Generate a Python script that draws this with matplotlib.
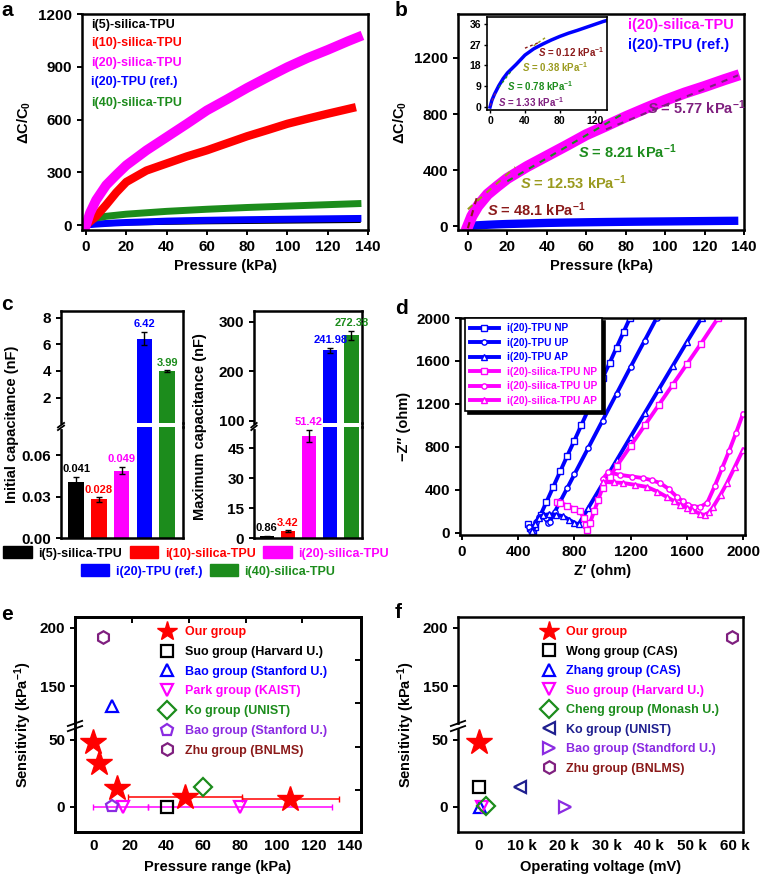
import numpy as np
import matplotlib.pyplot as plt
from matplotlib.lines import Line2D
from matplotlib.patches import Patch

plt.rcParams['font.family'] = ['Liberation Sans', 'DejaVu Sans']
plt.rcParams['font.weight'] = 'bold'
plt.rcParams['axes.labelweight'] = 'bold'
plt.rcParams['mathtext.fontset'] = 'custom'
plt.rcParams['mathtext.rm'] = 'Liberation Sans:bold'
plt.rcParams['mathtext.it'] = 'Liberation Sans:italic:bold'
plt.rcParams['mathtext.bf'] = 'Liberation Sans:bold'
plt.rcParams['axes.linewidth'] = 1.8
plt.rcParams['xtick.major.width'] = 1.4
plt.rcParams['ytick.major.width'] = 1.4
plt.rcParams['xtick.major.size'] = 3.5
plt.rcParams['ytick.major.size'] = 3.5
plt.rcParams['xtick.labelsize'] = 11
plt.rcParams['ytick.labelsize'] = 11
plt.rcParams['axes.labelsize'] = 10.5

BLACK, RED, MAG, BLUE, GREEN = '#000000', '#FF0000', '#FF00FF', '#0000FF', '#1C8C1C'
BROWN, OLIVE, PURPLE, VIOLET, NAVY = '#8B1A1A', '#9A9A1E', '#7F1F7F', '#8B2BE2', '#1F1F8F'

# ---------------- data ----------------
# a / b : dC/C0 vs pressure
pressure = [0, 2, 5, 10, 15, 20, 30, 40, 50, 60, 70, 80, 90, 100, 110, 120, 130, 135]
pressure_i10 = [0, 2, 5, 10, 15, 20, 30, 40, 50, 60, 70, 80, 90, 100, 110, 120, 132]
dc_i5 = [0, 3, 6, 9, 11, 13, 15, 17, 18.5, 20, 21, 22, 23, 24, 25, 26, 27, 27.5]
dc_i10 = [0, 20, 50, 115, 185, 245, 310, 350, 390, 425, 465, 505, 540, 576, 605, 633, 665]
dc_i20 = [0, 70, 142, 227, 285, 340, 425, 500, 575, 652, 715, 780, 840, 898, 950, 996, 1045, 1068]
dc_ref = [0, 2.8, 5.5, 9.2, 12.3, 14.8, 18.5, 22.5, 25.2, 27.2, 29, 30.6, 32, 33.2, 34.5, 35.8, 37.1, 37.6]
dc_i40 = [0, 25, 40, 50, 56, 62, 70, 78, 84, 90, 95, 100, 104, 108, 112, 116, 120, 122]

# b : linear fits on i(20)-silica-TPU
fit_s = [48.1, 12.53, 8.21, 5.77]
fit_p0 = [0, 0, 20, 70]
fit_p1 = [4.5, 24, 80, 137]
fit_v0 = [-15, 120, 320, 690]
fit_colors = [BROWN, OLIVE, GREEN, PURPLE]
# b inset : fits on i(20)-TPU (ref.)
ins_s = [0.12, 0.38, 0.78, 1.33]
ins_p = [(40, 55), (50, 65), (10, 25), (0, 6)]
ins_v = [(25.5, 27.8), (26.5, 30.5), (8.5, 16), (0.5, 6)]

# c : capacitance bars
groups = ['i(5)-silica-TPU', 'i(10)-silica-TPU', 'i(20)-silica-TPU', 'i(20)-TPU (ref.)', 'i(40)-silica-TPU']
group_colors = [BLACK, RED, MAG, BLUE, GREEN]
c_init = [0.041, 0.028, 0.049, 6.42, 3.99]
c_init_err = [0.0035, 0.0015, 0.0024, 0.5, 0.05]
c_init_txt = ['0.041', '0.028', '0.049', '6.42', '3.99']
c_max = [0.86, 3.42, 51.42, 241.98, 272.38]
c_max_err = [0.3, 0.4, 3.0, 5.0, 10.0]
c_max_txt = ['0.86', '3.42', '51.42', '241.98', '272.38']

# d : Nyquist plots
nyq_labels = ['i(20)-TPU NP', 'i(20)-TPU UP', 'i(20)-TPU AP',
              'i(20)-silica-TPU NP', 'i(20)-silica-TPU UP', 'i(20)-silica-TPU AP']
nyq_colors = [BLUE, BLUE, BLUE, MAG, MAG, MAG]
nyq_markers = ['s', 'o', '^', 's', 'o', '^']
nyq_re = [
    [468, 482, 495, 505, 520, 560, 600, 650, 700, 750, 800, 850, 900, 950, 1000, 1050, 1100, 1150, 1195],
    [475, 490, 505, 525, 550, 575, 595, 610, 625, 660, 700, 750, 800, 900, 1000, 1100, 1200, 1300, 1385],
    [500, 520, 545, 580, 620, 670, 720, 760, 800, 830, 860, 900, 1000, 1100, 1200, 1300, 1400, 1500, 1600, 1705],
    [675, 700, 750, 800, 840, 865, 880, 892, 910, 940, 970, 1000, 1050, 1100, 1200, 1300, 1400, 1500, 1600, 1700, 1822],
    [1000, 1040, 1125, 1210, 1290, 1350, 1410, 1470, 1530, 1570, 1610, 1650, 1695, 1745, 1800, 1850, 1900, 1950, 2000],
    [1006, 1080, 1146, 1230, 1317, 1390, 1458, 1510, 1552, 1600, 1638, 1695, 1730, 1760, 1787, 1840, 1886, 1940, 2000],
]
nyq_im = [
    [80, 45, 15, 5, 55, 170, 285, 430, 575, 720, 860, 1005, 1150, 1295, 1440, 1580, 1725, 1870, 2000],
    [60, 20, 10, 100, 150, 160, 135, 95, 105, 195, 295, 420, 545, 795, 1045, 1295, 1545, 1790, 2000],
    [15, 80, 140, 165, 175, 170, 155, 125, 95, 80, 145, 235, 455, 675, 895, 1115, 1335, 1555, 1775, 2000],
    [290, 280, 255, 225, 200, 140, 70, 30, 90, 200, 310, 420, 525, 620, 810, 1000, 1190, 1380, 1570, 1760, 2000],
    [500, 565, 540, 525, 510, 490, 465, 410, 335, 295, 260, 245, 242, 280, 440, 600, 760, 930, 1110],
    [474, 470, 465, 448, 428, 385, 335, 295, 260, 235, 214, 177, 167, 195, 242, 355, 465, 610, 775],
]

# e : sensitivity vs pressure range
e_labels = ['Our group', 'Suo group (Harvard U.)', 'Bao group (Stanford U.)', 'Park group (KAIST)',
            'Ko group (UNIST)', 'Bao group (Stanford U.)', 'Zhu group (BNLMS)']
e_text_colors = [RED, BLACK, BLUE, MAG, GREEN, VIOLET, BROWN]
e_marker_colors = [RED, BLACK, BLUE, MAG, GREEN, VIOLET, PURPLE]
e_markers = ['*', 's', '^', 'v', 'D', 'p', 'h']
e_x = [[0, 3, 13, 50, 107], [40], [10], [16, 80], [60], [10], [5]]
e_y = [[48.5, 33, 14, 7.5, 6], [0], [133], [0, 0], [15], [1], [192]]
e_xerr_lo = [[0, 0, 0, 31, 26], [0], [0], [16, 50], [0], [0], [0]]
e_xerr_hi = [[0, 0, 0, 31, 27], [0], [0], [14, 50], [0], [0], [0]]

# f : sensitivity vs operating voltage
f_labels = ['Our group', 'Wong group (CAS)', 'Zhang group (CAS)', 'Suo group (Harvard U.)',
            'Cheng group (Monash U.)', 'Ko group (UNIST)', 'Bao group (Standford U.)', 'Zhu group (BNLMS)']
f_text_colors = [RED, BLACK, BLUE, MAG, GREEN, NAVY, VIOLET, BROWN]
f_marker_colors = [RED, BLACK, BLUE, MAG, GREEN, NAVY, VIOLET, PURPLE]
f_markers = ['*', 's', '^', 'v', 'D', '<', '>', 'h']
f_x = [0, 0, 300, 600, 1600, 9600, 20200, 59500]
f_y = [48.5, 15, 0, 0, 1, 15, 0, 192]

# ---------------- figure ----------------
W, H = 761, 876
fig = plt.figure(figsize=(W / 100, H / 100), dpi=100)


def add_ax(x0, y0, x1, y1):
    return fig.add_axes([x0 / W, 1 - y1 / H, (x1 - x0) / W, (y1 - y0) / H])


def panel_label(x, y, s):
    fig.text(x / W, 1 - y / H, s, fontsize=15, fontweight='bold', ha='left', va='center')


def broken_scale(ymin, lo, hi, ymax, frac, gap=0.006):
    src = np.array([ymin, lo, hi, ymax], dtype=float)
    dst = np.array([0.0, frac, frac + gap, 1.0])

    def make(a, b):
        def f(v):
            v = np.asarray(v, dtype=float)
            out = np.interp(v, a, b)
            out = np.where(v < a[0], b[0] + (v - a[0]) * (b[1] - b[0]) / (a[1] - a[0]), out)
            out = np.where(v > a[-1], b[-1] + (v - a[-1]) * (b[-1] - b[-2]) / (a[-1] - a[-2]), out)
            return out
        return f
    return make(src, dst), make(dst, src)


def break_marks(ax, yfrac, dy=0.012):
    ax.plot([-0.03, 0.03], [yfrac - 0.004, yfrac - 0.004], color='white', lw=3,
            transform=ax.transAxes, clip_on=False, zorder=10)
    for off in (-0.012, 0.012):
        ax.plot([-0.025, 0.025], [yfrac + off - dy, yfrac + off + dy], color='k', lw=1.3,
                transform=ax.transAxes, clip_on=False, zorder=11)


# ---- a ----
ax = add_ax(82, 14, 368, 230)
ax.plot(pressure, dc_i5, color=BLACK, lw=4)
ax.plot(pressure, dc_ref, color=BLUE, lw=5)
ax.plot(pressure, dc_i40, color=GREEN, lw=5)
ax.plot(pressure_i10, dc_i10, color=RED, lw=6)
ax.plot(pressure, dc_i20, color=MAG, lw=7)
ax.set_xlim(-2, 140)
ax.set_ylim(-28, 1200)
ax.set_xticks(range(0, 141, 20))
ax.set_yticks([0, 300, 600, 900, 1200])
ax.set_xlabel('Pressure (kPa)')
ax.set_ylabel('ΔC/C$_0$')
for name, col, yf in zip(groups, [BLACK, RED, MAG, BLUE, GREEN], [0.949, 0.866, 0.773, 0.685, 0.588]):
    ax.text(0.031, yf, name, color=col, fontsize=9, transform=ax.transAxes, va='center')
panel_label(1, 10, 'a')

# ---- b ----
ax = add_ax(458, 14, 744, 230)
ax.plot(pressure[1:], dc_ref[1:], color=BLUE, lw=6)
ax.plot(pressure, dc_i20, color=MAG, lw=8)
for s, p0, p1, v0, c in zip(fit_s, fit_p0, fit_p1, fit_v0, fit_colors):
    px = np.array([p0, p1])
    ax.plot(px, v0 + s * (px - p0), color=c, lw=1.5, ls=(0, (3, 3)))
ax.set_xlim(-5, 140)
ax.set_ylim(-28, 1514)
ax.set_xticks(range(0, 141, 20))
ax.set_yticks([0, 400, 800, 1200])
ax.set_xlabel('Pressure (kPa)')
ax.set_ylabel('ΔC/C$_0$')
ax.text(81, 1435, 'i(20)-silica-TPU', color=MAG, fontsize=10.5, va='center')
ax.text(81, 1292, 'i(20)-TPU (ref.)', color=BLUE, fontsize=10.5, va='center')
for s, (tx, ty), c in zip(fit_s, [(9.7, 114), (26.5, 307), (56, 528), (91, 843)], fit_colors):
    ax.text(tx, ty, r'$\mathit{S}$ = %s kPa$^{-1}$' % s, color=c, fontsize=10.5, va='center')
panel_label(395, 11, 'b')

ins = add_ax(487, 17, 607, 110)
ins.plot(pressure, dc_ref, color=BLUE, lw=2.5)
for (p0, p1), (v0, v1), c in zip(ins_p, ins_v, fit_colors):
    ins.plot([p0, p1], [v0, v1], color=c, lw=1.0, ls=(0, (2, 2)))
ins.set_xlim(-3.5, 134)
ins.set_ylim(-1.3, 39)
ins.set_xticks([0, 40, 80, 120])
ins.set_yticks([0, 9, 18, 27, 36])
ins.tick_params(labelsize=7.5, length=2.5, width=1, pad=1.5)
for sp in ins.spines.values():
    sp.set_linewidth(1.2)
for s, (tx, ty), c in zip(ins_s, [(54.9, 23.8), (36.6, 17.3), (19.4, 9.1), (9.1, 2.2)], fit_colors):
    ins.text(tx, ty, r'$\mathit{S}$ = %s kPa$^{-1}$' % s, color=c, fontsize=7, va='center')

# ---- c ----
xpos = np.arange(5)


def capacitance_panel(x0, x1, yt, yb, ybreak, up_lim, lo_lim, up_ticks, lo_ticks, up_fmt, lo_fmt,
                      vals, errs, txts, xlim):
    up = add_ax(x0, yt, x1, ybreak - 1.5)
    lo = add_ax(x0, ybreak + 1.5, x1, yb)
    for a, lim in ((up, up_lim), (lo, lo_lim)):
        a.bar(xpos, vals, width=0.68, color=group_colors, zorder=2)
        a.set_ylim(*lim)
        a.set_xlim(*xlim)
        a.set_xticks([])
        a.tick_params(axis='y', direction='out')
    up.set_yticks(up_ticks)
    up.set_yticklabels([up_fmt % t for t in up_ticks])
    lo.set_yticks(lo_ticks)
    lo.set_yticklabels([lo_fmt % t for t in lo_ticks])
    up.spines['bottom'].set_visible(False)
    lo.spines['top'].set_visible(False)
    for i, (v, e, t) in enumerate(zip(vals, errs, txts)):
        a = up if v > lo_lim[1] else lo
        a.errorbar(xpos[i], v, yerr=e, color='k', capsize=2, elinewidth=1, capthick=1, zorder=3)
        a.annotate(t, (xpos[i], v + e), xytext=(0, 2), textcoords='offset points',
                   ha='center', va='bottom', color=group_colors[i], fontsize=8)
    break_marks(lo, 1.0, dy=0.02)
    fig.add_artist(Line2D([x1 / W, x1 / W], [1 - (ybreak + 2) / H, 1 - (ybreak - 2) / H],
                          color='k', lw=1.8))
    return up, lo


capacitance_panel(61, 183, 311, 538, 425, (0.06, 8.49), (0, 0.081), [2, 4, 6, 8],
                  [0.0, 0.03, 0.06], '%d', '%.2f', c_init, c_init_err, c_init_txt, (-0.66, 4.7))
capacitance_panel(254, 362, 311, 538, 425, (94, 322), (0, 56), [100, 200, 300],
                  [0, 15, 30, 45], '%d', '%d', c_max, c_max_err, c_max_txt, (-0.6, 4.5))
fig.text(12 / W, 1 - 424 / H, 'Initial capacitance (nF)', rotation=90, fontsize=10.5,
         ha='center', va='center')
fig.text(200 / W, 1 - 427 / H, 'Maximum capacitance (nF)', rotation=90, fontsize=10.5,
         ha='center', va='center')
panel_label(1, 304, 'c')

handles = [Patch(color=c) for c in group_colors]
leg_kw = dict(frameon=False, fontsize=9.0, handlelength=2.3, handleheight=1.1,
              handletextpad=0.5, columnspacing=0.6, borderpad=0)
leg1 = fig.legend(handles[:3], groups[:3], loc='center', bbox_to_anchor=(196 / W, 1 - 553 / H),
                  ncol=3, **leg_kw)
leg2 = fig.legend(handles[3:], groups[3:], loc='center', bbox_to_anchor=(208 / W, 1 - 571 / H),
                  ncol=2, **leg_kw)
for lg, cols in ((leg1, group_colors[:3]), (leg2, group_colors[3:])):
    for t, c in zip(lg.get_texts(), cols):
        t.set_color(c)

# ---- d ----
ax = add_ax(460, 318, 745, 535)
for re, im, c, m, lab in zip(nyq_re, nyq_im, nyq_colors, nyq_markers, nyq_labels):
    ax.plot(re, im, color=c, lw=2.8, marker=m, ms=3.8, mfc='white', mec=c, mew=1, label=lab)
ax.set_xlim(-14, 2014)
ax.set_ylim(-19, 2000)
ax.set_xticks(range(0, 2001, 400))
ax.set_yticks(range(0, 2001, 400))
ax.set_xlabel('Z′ (ohm)')
ax.set_ylabel('−Z″ (ohm)')
lg = ax.legend(loc='upper left', bbox_to_anchor=(0.018, 1.0), fontsize=7.3, frameon=True,
               fancybox=False, edgecolor='k', handlelength=2.8, labelspacing=0.45,
               borderpad=0.5, borderaxespad=0, shadow={'color': 'black', 'alpha': 1})
lg.get_frame().set_linewidth(1.2)
for t, c in zip(lg.get_texts(), nyq_colors):
    t.set_color(c)
panel_label(395, 309, 'd')

# ---- e ----
fwd, inv = broken_scale(-18.7, 60.4, 117, 209.3, 0.493)
ax = add_ax(75, 617, 361, 832)
ax.set_yscale('function', functions=(fwd, inv))
ehandles = []
for xs, ys, lo_, hi_, m, mc in zip(e_x, e_y, e_xerr_lo, e_xerr_hi, e_markers, e_marker_colors):
    for x, y, el, eh in zip(xs, ys, lo_, hi_):
        if el or eh:
            ax.errorbar(x, y, xerr=[[el], [eh]], fmt='none', ecolor=mc, elinewidth=1.1,
                        capsize=2.5, capthick=1, zorder=2)
    if m == '*':
        ax.plot(xs, ys, ls='none', marker=m, ms=19, color=mc, zorder=4)
        ehandles.append(Line2D([], [], ls='none', marker=m, ms=15, color=mc))
    else:
        ax.plot(xs, ys, ls='none', marker=m, ms=9, mfc='none', mec=mc, mew=1.6, zorder=3)
        ehandles.append(Line2D([], [], ls='none', marker=m, ms=9, mfc='none', mec=mc, mew=1.6))
ax.set_xlim(-10, 146)
ax.set_ylim(-18.7, 209.3)
ax.set_xticks(range(0, 141, 20))
ax.set_yticks([0, 50, 150, 200])
ax.tick_params(axis='x', length=0, pad=5)
ax.set_xlabel('Pressure range (kPa)', labelpad=5)
ax.set_ylabel('Sensitivity (kPa$^{-1}$)')
break_marks(ax, 0.493)
lg = ax.legend(ehandles, e_labels, loc='upper left', bbox_to_anchor=(0.29, 0.957), frameon=False,
               fontsize=9, handlelength=1.5, handletextpad=0.7, labelspacing=0.62,
               borderpad=0, borderaxespad=0)
for t, c in zip(lg.get_texts(), e_text_colors):
    t.set_color(c)
tx = ax.twiny()
tx.set_xlim(ax.get_xlim())
tx.set_xticks([21, 52, 83, 114])
tx.set_xticklabels([])
tx.tick_params(direction='in', length=4)
ty = ax.twinx()
ty.set_ylim(0, 1)
ty.set_yticks([0.195, 0.395, 0.6, 0.8])
ty.set_yticklabels([])
ty.tick_params(direction='in', length=4)
panel_label(1, 614, 'e')

# ---- f ----
ax = add_ax(458, 617, 743, 832)
ax.set_yscale('function', functions=(fwd, inv))
fhandles = []
for x, y, m, mc in zip(f_x, f_y, f_markers, f_marker_colors):
    if m == '*':
        ax.plot([x], [y], ls='none', marker=m, ms=19, color=mc, zorder=4)
        fhandles.append(Line2D([], [], ls='none', marker=m, ms=15, color=mc))
    else:
        ax.plot([x], [y], ls='none', marker=m, ms=9, mfc='none', mec=mc, mew=1.6, zorder=3)
        fhandles.append(Line2D([], [], ls='none', marker=m, ms=9, mfc='none', mec=mc, mew=1.6))
ax.set_xlim(-4940, 62000)
ax.set_ylim(-18.7, 209.3)
ax.set_xticks(range(0, 60001, 10000))
ax.set_xticklabels(['0', '10 k', '20 k', '30 k', '40 k', '50 k', '60 k'])
ax.set_yticks([0, 50, 150, 200])
ax.tick_params(axis='x', length=0, pad=5)
ax.set_xlabel('Operating voltage (mV)', labelpad=5)
ax.set_ylabel('Sensitivity (kPa$^{-1}$)')
break_marks(ax, 0.493)
lg = ax.legend(fhandles, f_labels, loc='upper left', bbox_to_anchor=(0.285, 0.957), frameon=False,
               fontsize=9, handlelength=1.5, handletextpad=0.65, labelspacing=0.6,
               borderpad=0, borderaxespad=0)
for t, c in zip(lg.get_texts(), f_text_colors):
    t.set_color(c)
panel_label(395, 613, 'f')

fig.savefig('out.png', dpi=100)
